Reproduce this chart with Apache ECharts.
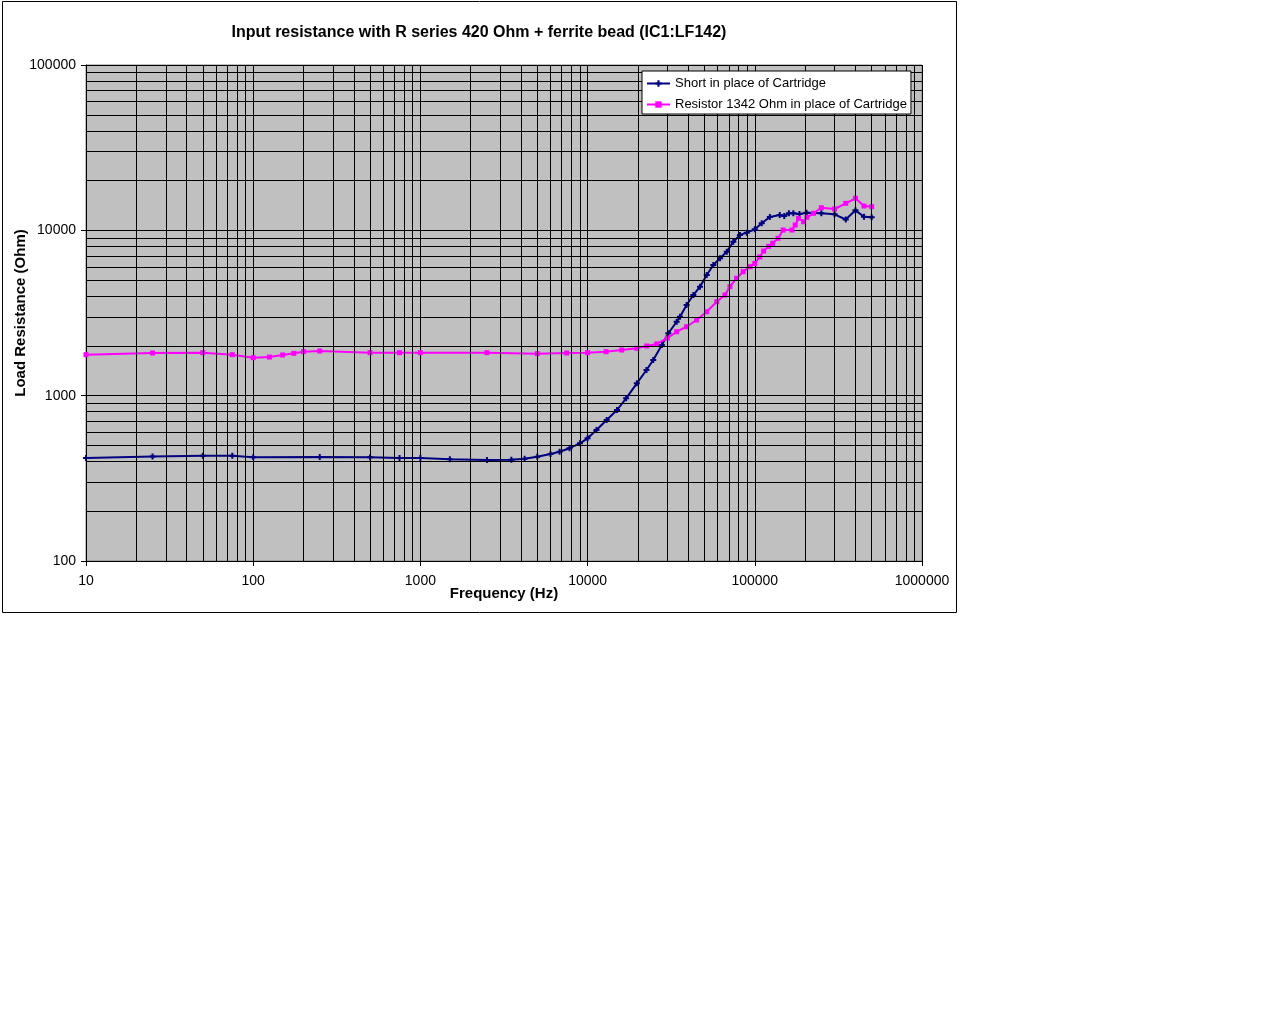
<!DOCTYPE html>
<html><head><meta charset="utf-8">
<script src="https://cdn.jsdelivr.net/npm/echarts@6/dist/echarts.min.js"></script>
<style>html,body{margin:0;padding:0;background:#fff}#c{width:1280px;height:1024px}</style>
</head><body><div id="c"></div>
<script>
// ---- data ----
const seriesNames = ['Short in place of Cartridge', 'Resistor 1342 Ohm in place of Cartridge'];

const freqShort = [10,25,50,75,100,250,500,750,1000,1500,2500,3500,4200,5000,6000,6800,7800,9000,10000,11300,13000,15000,17000,19700,22500,24700,27800,30400,34100,35700,39100,42900,47000,51600,56500,62000,68000,74400,81500,89500,100000,110000,123000,141000,150000,160000,170000,185000,204000,250000,300000,350000,400000,450000,500000];
const resShort  = [420,428,433,433,424,425,424,420,420,412,408,409,415,427,444,458,481,515,552,620,713,819,964,1188,1429,1643,2024,2384,2801,3005,3534,4061,4561,5370,6170,6773,7425,8537,9371,9680,10140,11030,12040,12390,12200,12700,12680,12550,12790,12680,12500,11630,13210,12090,11990];

const freqResistor = [10,25,50,75,100,125,150,175,200,250,500,750,1000,2500,5000,7500,10000,12900,16000,19700,22600,25900,30000,34100,39100,44900,51600,59200,66300,71000,77800,85200,93600,100000,107000,113000,121000,128000,137700,147800,166700,174500,182800,195800,204900,224700,250000,300000,350000,400000,450000,500000];
const resResistor  = [1770,1811,1820,1770,1698,1712,1762,1803,1845,1862,1820,1820,1820,1820,1795,1811,1820,1845,1888,1934,1997,2054,2230,2436,2612,2870,3220,3700,4061,4561,5128,5623,6026,6300,6900,7500,8000,8350,8950,10040,10040,10770,11830,11280,11990,12680,13700,13460,14570,15630,14030,13900];

const xTickLabels = [10,100,1000,10000,100000,1000000];
const yTickLabels = [100,1000,10000,100000];
const minorSteps = [2,3,4,5,6,7,8,9];

// ---- chart ----
const FONT = "'Liberation Sans', Arial, sans-serif";
const zip = (a, b) => a.map((v, i) => [v, b[i]]);
const plain = v => String(Math.round(v));

const minorLines = [];
xTickLabels.slice(0, -1).forEach(d => minorSteps.forEach(m => minorLines.push({ xAxis: d * m })));
yTickLabels.slice(0, -1).forEach(d => minorSteps.forEach(m => minorLines.push({ yAxis: d * m })));

const chart = echarts.init(document.getElementById('c'), null, { renderer: 'canvas' });
chart.setOption({
  animation: false,
  backgroundColor: '#ffffff',
  textStyle: { fontFamily: FONT },
  graphic: [{
    type: 'rect', silent: true, z: -10,
    shape: { x: 2.5, y: 1.5, width: 954, height: 611 },
    style: { fill: 'none', stroke: '#000', lineWidth: 1 }
  }],
  title: {
    text: 'Input resistance with R series 420 Ohm + ferrite bead (IC1:LF142)',
    left: 479, top: 25, textAlign: 'center', padding: 0,
    textStyle: { fontFamily: FONT, fontSize: 16, fontWeight: 'bold', color: '#000' }
  },
  legend: {
    data: seriesNames, z: 100, zlevel: 1,
    left: 642, top: 71, orient: 'vertical',
    backgroundColor: '#fff', borderColor: '#000', borderWidth: 1,
    padding: [6, 4, 3, 4], itemWidth: 23, itemHeight: 8, itemGap: 8,
    textStyle: { fontFamily: FONT, fontSize: 13, color: '#000' }
  },
  grid: {
    left: 86, top: 65, width: 836, height: 496, outerBoundsMode: 'none', containLabel: false,
    show: true, backgroundColor: '#c0c0c0', borderColor: '#808080', borderWidth: 1
  },
  xAxis: {
    type: 'log', logBase: 10, min: 10, max: 1000000,
    name: 'Frequency (Hz)', nameLocation: 'middle', nameGap: 25, nameMoveOverlap: false,
    nameTextStyle: { fontFamily: FONT, fontSize: 15, fontWeight: 'bold', color: '#000' },
    axisLine: { show: true, lineStyle: { color: '#000', width: 1 } },
    axisTick: { show: true, length: 5, lineStyle: { color: '#000' } },
    axisLabel: { fontFamily: FONT, fontSize: 14, color: '#000', margin: 13, formatter: plain },
    splitLine: { show: true, lineStyle: { color: '#000', width: 1 } },
    minorTick: { show: false }, minorSplitLine: { show: false }
  },
  yAxis: {
    type: 'log', logBase: 10, min: 100, max: 100000,
    name: 'Load Resistance (Ohm)', nameLocation: 'middle', nameGap: 58, nameMoveOverlap: false,
    nameTextStyle: { fontFamily: FONT, fontSize: 15, fontWeight: 'bold', color: '#000' },
    axisLine: { show: true, lineStyle: { color: '#000', width: 1 } },
    axisTick: { show: true, length: 5, lineStyle: { color: '#000' } },
    axisLabel: { fontFamily: FONT, fontSize: 14, color: '#000', margin: 10, formatter: plain },
    splitLine: { show: true, lineStyle: { color: '#000', width: 1 } }
  },
  series: [
    {
      name: '_grid', type: 'line', data: [], silent: true, z: 1,
      markLine: {
        silent: true, symbol: ['none', 'none'], label: { show: false },
        lineStyle: { color: '#000', width: 1, type: 'solid' },
        emphasis: { disabled: true },
        data: minorLines
      }
    },
    {
      name: seriesNames[0], type: 'line', z: 3,
      data: zip(freqShort, resShort),
      showSymbol: true, showAllSymbol: true,
      symbol: 'path://M1,0h1v1h1v1h-1v1h-1v-1h-1v-1h1z', symbolSize: 6,
      lineStyle: { color: '#000080', width: 2 },
      itemStyle: { color: '#000080' }
    },
    {
      name: seriesNames[1], type: 'line', z: 4,
      data: zip(freqResistor, resResistor),
      showSymbol: true, showAllSymbol: true,
      symbol: 'rect', symbolSize: 5,
      lineStyle: { color: '#ff00ff', width: 2 },
      itemStyle: { color: '#ff00ff' }
    }
  ]
});
</script>
</body></html>
